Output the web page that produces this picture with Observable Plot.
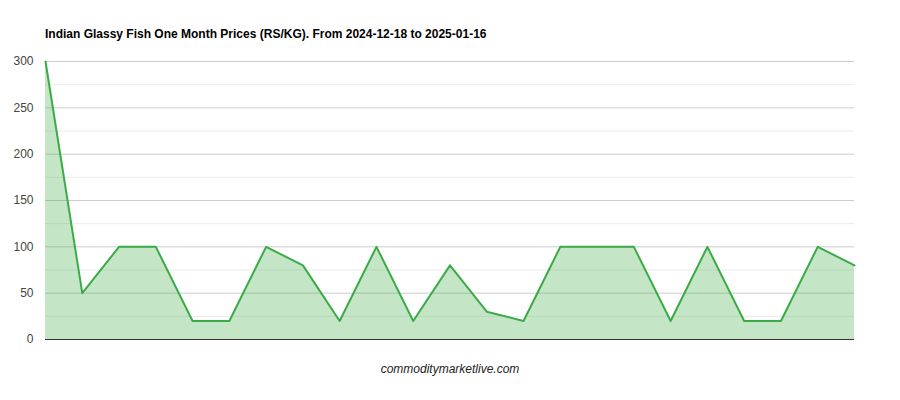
<!DOCTYPE html>
<html>
<head>
<meta charset="utf-8">
<script src="https://cdn.jsdelivr.net/npm/d3@7"></script>
<script src="https://cdn.jsdelivr.net/npm/@observablehq/plot@0.6"></script>
<style>
  html, body { margin: 0; padding: 0; background: #fff; }
  #wrap { position: relative; width: 900px; height: 400px; font-family: Arial, "Liberation Sans", sans-serif; }
  #title { position: absolute; left: 45px; top: 27px; font-size: 12px; font-weight: bold; color: #000; white-space: nowrap; }
  #caption { position: absolute; left: 0; width: 900px; top: 362px; text-align: center; font-size: 12px; font-style: italic; color: #222; }
</style>
</head>
<body>
<div id="wrap">
  <div id="chart"></div>
  <div id="title">Indian Glassy Fish One Month Prices (RS/KG). From 2024-12-18 to 2025-01-16</div>
  <div id="caption">commoditymarketlive.com</div>
</div>
<script>
const prices = [300, 50, 100, 100, 20, 20, 100, 80, 20, 100, 20, 80, 30, 20, 100, 100, 100, 20, 100, 20, 20, 100, 80];
const yTicks = [0, 50, 100, 150, 200, 250, 300];
const yMinorTicks = [25, 75, 125, 175, 225, 275];

const data = prices.map((v, i) => ({i, v}));

const chart = Plot.plot({
  width: 900,
  height: 400,
  marginLeft: 45,
  marginRight: 46,
  marginTop: 61,
  marginBottom: 61,
  style: {fontFamily: "Arial, 'Liberation Sans', sans-serif", fontSize: "12px", color: "#444", background: "#fff"},
  x: {domain: [0, prices.length - 1], axis: null},
  y: {domain: [0, 300], ticks: yTicks, tickSize: 0, tickPadding: 12, label: null},
  marks: [
    Plot.ruleY(yMinorTicks, {stroke: "#ebebeb", strokeWidth: 1}),
    Plot.ruleY(yTicks.filter(t => t > 0), {stroke: "#cccccc", strokeWidth: 1}),
    Plot.areaY(data, {x: "i", y: "v", fill: "#3bab47", fillOpacity: 0.3}),
    Plot.lineY(data, {x: "i", y: "v", stroke: "#3bab47", strokeWidth: 2}),
    Plot.ruleY([0], {stroke: "#333", strokeWidth: 1})
  ]
});
document.getElementById("chart").appendChild(chart);
</script>
</body>
</html>
